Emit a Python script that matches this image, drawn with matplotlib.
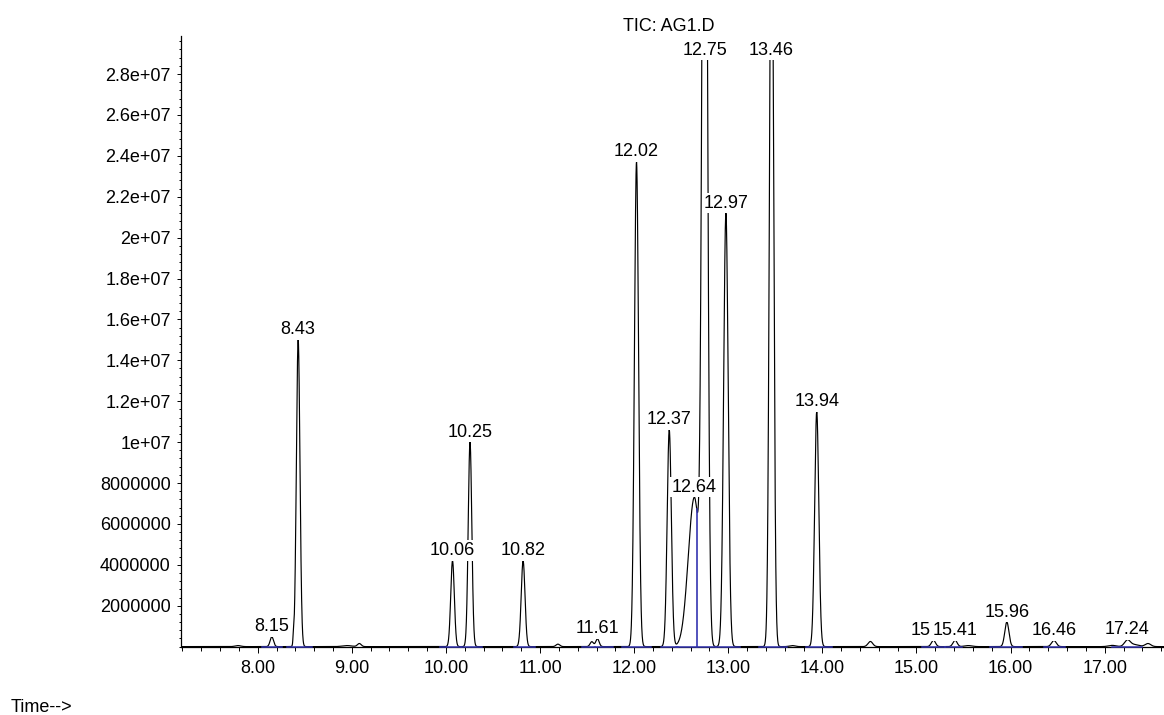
import numpy as np
import matplotlib
matplotlib.use("Agg")
import matplotlib.pyplot as plt
from matplotlib.ticker import FixedLocator, MultipleLocator, NullFormatter
from matplotlib.patches import Rectangle

# ---------------- data ----------------
# peak apex times (min), apex heights (abundance), left/right peak widths (sigma, min)
peak_times = [7.79, 8.15, 8.38, 8.43, 8.95, 9.08, 10.07, 10.256, 10.82, 11.19, 11.55,
              11.61, 12.025, 12.373, 12.64, 12.75, 12.975, 13.46, 13.68, 13.94, 14.51,
              15.18, 15.41, 15.55, 15.96, 16.46, 17.08, 17.24, 17.31, 17.46]
peak_heights = [0.05e6, 0.48e6, 0.45e6, 15.0e6, 0.05e6, 0.15e6, 4.2e6, 10.0e6, 4.2e6,
                0.12e6, 0.24e6, 0.38e6, 23.7e6, 10.6e6, 7.3e6, 55.0e6, 21.2e6, 40.0e6,
                0.05e6, 11.5e6, 0.25e6, 0.31e6, 0.31e6, 0.05e6, 1.2e6, 0.30e6, 0.06e6,
                0.30e6, 0.10e6, 0.15e6]
peak_sigma_left = [0.03, 0.018, 0.005, 0.019, 0.05, 0.02, 0.019, 0.019, 0.02, 0.02, 0.018,
                   0.018, 0.022, 0.022, 0.065, 0.026, 0.024, 0.021, 0.03, 0.022, 0.025,
                   0.022, 0.022, 0.04, 0.022, 0.025, 0.04, 0.03, 0.05, 0.03]
peak_sigma_right = [0.03, 0.018, 0.005, 0.019, 0.05, 0.02, 0.019, 0.019, 0.02, 0.02, 0.018,
                    0.018, 0.022, 0.022, 0.05, 0.026, 0.024, 0.021, 0.03, 0.022, 0.025,
                    0.022, 0.022, 0.04, 0.022, 0.025, 0.04, 0.03, 0.05, 0.03]

# peak labels
label_times = [8.15, 8.43, 10.07, 10.256, 10.82, 11.61, 12.025, 12.373, 12.64, 12.75,
               12.975, 13.46, 13.94, 15.18, 15.41, 15.96, 16.46, 17.24]
label_texts = ["8.15", "8.43", "10.06", "10.25", "10.82", "11.61", "12.02", "12.37",
               "12.64", "12.75", "12.97", "13.46", "13.94", "15.18", "15.41", "15.96",
               "16.46", "17.24"]

# integration baselines (blue) and drop lines
baseline_start = [8.05, 8.31, 9.94, 10.16, 10.72, 11.45, 11.58, 11.87, 12.28, 12.45,
                  12.665, 12.87, 13.33, 13.83, 15.06, 15.30, 15.78, 16.35, 17.08]
baseline_end = [8.26, 8.58, 10.16, 10.38, 10.95, 11.58, 11.78, 12.18, 12.47, 12.665,
                12.87, 13.12, 13.62, 14.10, 15.30, 15.48, 16.12, 16.58, 17.40]
drop_times = [12.665]

x_tick_values = [8, 9, 10, 11, 12, 13, 14, 15, 16, 17]
x_tick_labels = ["8.00", "9.00", "10.00", "11.00", "12.00", "13.00", "14.00",
                 "15.00", "16.00", "17.00"]
y_tick_values = [2e6, 4e6, 6e6, 8e6, 10e6, 12e6, 14e6, 16e6, 18e6, 20e6, 22e6,
                 24e6, 26e6, 28e6]
y_tick_labels = ["2000000", "4000000", "6000000", "8000000", "1e+07", "1.2e+07",
                 "1.4e+07", "1.6e+07", "1.8e+07", "2e+07", "2.2e+07", "2.4e+07",
                 "2.6e+07", "2.8e+07"]

title_text = "TIC: AG1.D"
xlabel_text = "Time-->"

# ---------------- figure ----------------
plt.rcParams['font.family'] = ['Liberation Sans', 'DejaVu Sans']
FS = 13
W, H = 1164, 715
fig = plt.figure(figsize=(W / 100, H / 100), dpi=100)
ax = fig.add_axes([181 / W, 68.4 / H, 983 / W, 610.6 / H])

XMIN, XMAX = 7.185, 17.63
YMAX = 29.86e6
TRACE_CAP = 28.68e6   # signal drawn up to this level (labels sit above)

t = np.linspace(XMIN, XMAX, 10001)
trace = np.zeros_like(t)
for t0, h, sl, sr in zip(peak_times, peak_heights, peak_sigma_left, peak_sigma_right):
    s = np.where(t < t0, sl, sr)
    trace += h * np.exp(-0.5 * ((t - t0) / s) ** 2)

line, = ax.plot(t, trace, color='black', lw=0.85, zorder=3)
clip_rect = Rectangle((XMIN, -2e6), XMAX - XMIN, TRACE_CAP + 2e6, transform=ax.transData)
line.set_clip_path(clip_rect)

blue = '#3535b0'
for a, b in zip(baseline_start, baseline_end):
    ax.plot([a, b], [0, 0], color=blue, lw=1.1, zorder=4, clip_on=False)
for d in drop_times:
    yv = np.interp(d, t, trace)
    ax.plot([d, d], [0, yv], color=blue, lw=1.2, zorder=4)

# peak labels with white background
for i, (lt, txt) in enumerate(zip(label_times, label_texts)):
    m = (t > lt - 0.02) & (t < lt + 0.02)
    yv = min(trace[m].max(), TRACE_CAP)
    ax.annotate(txt, xy=(lt, yv), xytext=(0, 4.0), textcoords='offset points',
                ha='center', va='baseline', fontsize=FS, zorder=10 + i,
                annotation_clip=False,
                bbox=dict(boxstyle='square,pad=0.1', fc='white', ec='none'))

ax.set_xlim(XMIN, XMAX)
ax.set_ylim(0, YMAX)

ax.spines['top'].set_visible(False)
ax.spines['right'].set_visible(False)
for sp in ('left', 'bottom'):
    ax.spines[sp].set_linewidth(0.9)
    ax.spines[sp].set_zorder(2)

ax.xaxis.set_major_locator(FixedLocator(x_tick_values))
ax.set_xticklabels(x_tick_labels, fontsize=FS)
ax.xaxis.set_minor_locator(MultipleLocator(0.2))
ax.yaxis.set_major_locator(FixedLocator(y_tick_values))
ax.set_yticklabels(y_tick_labels, fontsize=FS)
ax.yaxis.set_minor_locator(MultipleLocator(0.4e6))
ax.yaxis.set_minor_formatter(NullFormatter())
ax.xaxis.set_minor_formatter(NullFormatter())

ax.tick_params(axis='x', which='major', direction='out', length=4.3, width=0.7, pad=5)
ax.tick_params(axis='x', which='minor', direction='out', length=3.0, width=0.7)
ax.tick_params(axis='y', which='major', direction='out', length=3.0, width=0.7, pad=4.3)
ax.tick_params(axis='y', which='minor', direction='out', length=1.6, width=0.7)

fig.text(669 / W, 1 - 30.7 / H, title_text, ha='center', va='baseline', fontsize=FS)
fig.text(11 / W, 1 - 712.0 / H, xlabel_text, ha='left', va='baseline', fontsize=FS)

fig.savefig('out.png', dpi=100)
